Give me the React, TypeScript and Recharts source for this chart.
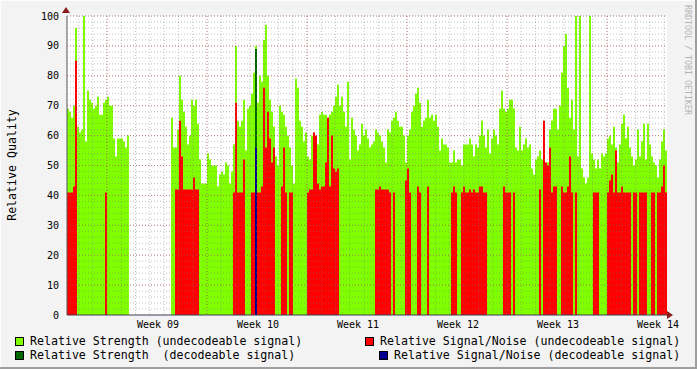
import { Bar, BarChart, CartesianGrid, XAxis, YAxis } from 'recharts'

const mono = '"DejaVu Sans Mono", monospace'

const weekLabels = ['Week 09', 'Week 10', 'Week 11', 'Week 12', 'Week 13', 'Week 14']
// sample index under each week label
const weekLabelIdx = [45, 95, 145, 195, 245, 295]
const yTicks = [0, 10, 20, 30, 40, 50, 60, 70, 80, 90, 100]

// relative strength, undecodeable signal (null = no data)
const strength = [
  69, 68, 66, 70, 96, 63, 61, 62, 100, 58,
  75, 72, 71, 69, 70, 73, 67, 67, 71, 72,
  73, 70, 70, 59, 53, 59, 59, 59, 58, 56,
  60, null, null, null, null, null, null, null, null, null,
  null, null, null, null, null, null, null, null, null, null,
  null, null, 66, 56, 56, 62, 80, 72, 68, 63,
  57, 60, 72, 70, 72, 64, 52, 44, 44, 44,
  54, 52, 50, 50, 50, 43, 47, 48, 47, 51,
  50, 44, 48, 57, 90, 65, 63, 65, 72, 55,
  69, 70, 74, 81, 90, 71, 80, 78, 92, 97,
  80, 72, 68, 63, 53, 50, 70, 68, 67, 63,
  60, 56, 50, 44, 79, 76, 65, 63, 58, 61,
  53, 52, 60, 61, 53, 57, 67, 68, 67, 67,
  66, 67, 68, 70, 73, 77, 70, 73, 68, 63,
  78, 52, 66, 62, 60, 55, 57, 64, 60, 62,
  59, 56, 57, 58, 62, 61, 60, 58, 56, 51,
  62, 61, 65, 66, 68, 65, 63, 63, 60, 51,
  60, 62, 68, 70, 74, 76, 71, 63, 65, 66,
  72, 66, 67, 65, 67, 63, 55, 59, 57, 57,
  56, 51, 51, 55, 51, 52, 52, 50, 57, 57,
  57, 59, 57, 53, 57, 56, 60, 65, 60, 56,
  62, 54, 59, 62, 60, 57, 69, 75, 69, 68,
  69, 72, 72, 69, 56, 55, 63, 55, 57, 59,
  56, 57, 49, 47, 52, 53, 55, 52, 50, 48,
  51, 62, 65, 69, 69, 62, 70, 81, 90, 94,
  76, 66, 72, 62, 100, 53, 100, 49, 46, 44,
  46, 100, 54, 52, 49, 52, 49, 54, 53, 54,
  59, 60, 57, 63, 56, 51, 57, 64, 67, 59,
  63, 56, 53, 50, 52, 62, 53, 58, 64, 52,
  64, 57, 53, 51, 50, 46, 52, 58, 62, 55,
]

// relative signal/noise, undecodeable signal (0 = none)
const snr = [
  41, 41, 41, 43, 85, 0, 0, 0, 0, 0,
  0, 0, 0, 0, 0, 0, 0, 0, 0, 41,
  0, 0, 0, 0, 0, 0, 0, 0, 0, 0,
  0, 0, 0, 0, 0, 0, 0, 0, 0, 0,
  0, 0, 0, 0, 0, 0, 0, 0, 0, 0,
  0, 0, 0, 0, 42, 42, 65, 53, 42, 42,
  42, 42, 42, 46, 42, 42, 0, 0, 0, 0,
  0, 0, 0, 0, 0, 0, 0, 0, 0, 0,
  0, 0, 0, 41, 71, 41, 41, 41, 52, 0,
  0, 0, 41, 41, 41, 41, 41, 43, 76, 56,
  68, 59, 51, 56, 0, 0, 0, 43, 56, 41,
  0, 41, 41, 0, 0, 0, 0, 0, 0, 0,
  41, 42, 42, 61, 60, 44, 42, 43, 43, 51,
  66, 43, 60, 49, 48, 49, 0, 0, 0, 0,
  0, 0, 0, 0, 0, 0, 0, 0, 0, 0,
  0, 0, 0, 0, 42, 42, 43, 42, 42, 42,
  42, 41, 0, 41, 0, 0, 0, 0, 0, 45,
  49, 41, 0, 0, 0, 43, 41, 0, 0, 0,
  43, 0, 0, 0, 0, 0, 0, 0, 0, 0,
  0, 0, 41, 43, 41, 0, 0, 41, 43, 41,
  41, 42, 41, 42, 41, 41, 43, 43, 41, 41,
  0, 0, 0, 0, 0, 0, 0, 0, 43, 41,
  41, 41, 0, 41, 0, 0, 0, 0, 0, 0,
  0, 0, 0, 0, 0, 0, 42, 0, 65, 51,
  50, 56, 41, 43, 43, 0, 0, 43, 41, 41,
  43, 53, 41, 0, 41, 0, 0, 0, 0, 0,
  0, 0, 0, 41, 41, 41, 0, 0, 0, 0,
  41, 45, 47, 41, 55, 41, 41, 43, 41, 41,
  41, 41, 0, 41, 41, 0, 41, 41, 41, 41,
  0, 0, 41, 41, 0, 41, 41, 43, 50, 41,
]

// decodeable signal: only one sample in the window
const decStrength: Record<number, number> = { 94: 89 }
const decSnr: Record<number, number> = { 94: 56 }

const DAYS = 42 // time span of the plot
const FIRST_WEEK = 2.8 // days from left edge to first week boundary

const rows = strength.map((s, i) => ({
  i,
  s,
  r: snr[i] ? snr[i] : null,
  ds: decStrength[i] ?? null,
  dr: decSnr[i] ?? null,
}))

const dayLines = ({ offset }: any) => {
  const out: number[] = []
  for (let d = FIRST_WEEK % 1; d < DAYS; d += 1) out.push(offset.left + (d / DAYS) * offset.width)
  return out
}
const weekLines = ({ offset }: any) => {
  const out: number[] = []
  for (let d = FIRST_WEEK; d < DAYS; d += 7) out.push(offset.left + (d / DAYS) * offset.width)
  return out
}
const levelLines = (step: number) => ({ offset }: any) => {
  const out: number[] = []
  for (let v = step; v <= 100; v += step) out.push(offset.top + offset.height * (1 - v / 100))
  return out
}

function Swatch({ color, x, y }: { color: string; x: number; y: number }) {
  return (
    <div
      style={{
        position: 'absolute',
        left: x,
        top: y,
        width: 7,
        height: 7,
        background: color,
        border: '1px solid #000',
      }}
    />
  )
}

function LegendText({ text, x, y }: { text: string; x: number; y: number }) {
  return (
    <div
      style={{
        position: 'absolute',
        left: x,
        top: y,
        fontFamily: mono,
        fontSize: 11.6,
        lineHeight: '14px',
        whiteSpace: 'pre',
        color: '#000',
      }}
    >
      {text}
    </div>
  )
}

export default function App() {
  return (
    <div
      style={{
        position: 'absolute',
        left: 0,
        top: 0,
        width: 697,
        height: 369,
        background: '#f3f3f3',
        boxShadow: 'inset -2px -2px 0 #9e9e9e, inset 1px 1px 0 #fdfdfd',
        overflow: 'hidden',
      }}
    >
      <BarChart
        width={697}
        height={369}
        data={rows}
        margin={{ top: 16, right: 30, bottom: 30, left: 8 }}
        barCategoryGap={0}
        barGap={0}
        style={{ position: 'absolute', left: 0, top: 0 }}
      >
        <rect x={67} y={16} width={600} height={299} fill="#fff" />
        <XAxis
          xAxisId="g"
          dataKey="i"
          ticks={weekLabelIdx}
          interval={0}
          tickFormatter={(v: number) => weekLabels[weekLabelIdx.indexOf(v)]}
          height={24}
          tickSize={0}
          tickMargin={6}
          axisLine={{ stroke: '#3c3c50' }}
          tick={{ fontSize: 10, fill: '#000', fontFamily: mono }}
        />
        <XAxis xAxisId="r" dataKey="i" hide height={0} />
        <XAxis xAxisId="ds" dataKey="i" hide height={0} />
        <XAxis xAxisId="dr" dataKey="i" hide height={0} />
        <YAxis
          domain={[0, 100]}
          ticks={yTicks}
          interval={0}
          width={59}
          tickSize={0}
          tickMargin={8}
          axisLine={{ stroke: '#555' }}
          tick={{ fontSize: 10, fill: '#000', fontFamily: mono }}
        />
        <Bar xAxisId="g" dataKey="s" fill="#80ff00" isAnimationActive={false} />
        <Bar xAxisId="r" dataKey="r" fill="#ff0000" isAnimationActive={false} />
        <Bar xAxisId="ds" dataKey="ds" fill="#006600" isAnimationActive={false} />
        <Bar xAxisId="dr" dataKey="dr" fill="#000090" isAnimationActive={false} />
        <CartesianGrid
          xAxisId="g"
          zIndex={2000}
          verticalCoordinatesGenerator={dayLines}
          horizontalCoordinatesGenerator={levelLines(2)}
          stroke="rgba(120,120,120,0.45)"
          strokeDasharray="1 2"
          fill="none"
        />
        <CartesianGrid
          xAxisId="g"
          zIndex={2001}
          verticalCoordinatesGenerator={weekLines}
          horizontalCoordinatesGenerator={levelLines(10)}
          stroke="rgba(190,60,60,0.5)"
          strokeDasharray="1 2"
          fill="none"
        />
      </BarChart>

      <div
        style={{
          position: 'absolute',
          left: 62,
          top: 7,
          width: 0,
          height: 0,
          borderLeft: '4px solid transparent',
          borderRight: '4px solid transparent',
          borderBottom: '6px solid #8b1a1a',
        }}
      />
      <div
        style={{
          position: 'absolute',
          left: 667,
          top: 311,
          width: 0,
          height: 0,
          borderTop: '4px solid transparent',
          borderBottom: '4px solid transparent',
          borderLeft: '6px solid #8b1a1a',
        }}
      />

      <div
        style={{
          position: 'absolute',
          left: 12,
          top: 165,
          transform: 'translate(-50%, -50%) rotate(-90deg)',
          fontFamily: mono,
          fontSize: 11.6,
          whiteSpace: 'pre',
          color: '#000',
        }}
      >
        Relative Quality
      </div>
      <div
        style={{
          position: 'absolute',
          left: 688,
          top: 60,
          transform: 'translate(-50%, -50%) rotate(90deg)',
          fontFamily: mono,
          fontSize: 8.3,
          whiteSpace: 'pre',
          color: '#b4b4b4',
        }}
      >
        RRDTOOL / TOBI OETIKER
      </div>

      <Swatch color="#80ff00" x={15} y={337} />
      <LegendText text="Relative Strength (undecodeable signal)" x={30} y={334} />
      <Swatch color="#ff0000" x={365} y={337} />
      <LegendText text="Relative Signal/Noise (undecodeable signal)" x={380} y={334} />
      <Swatch color="#006600" x={15} y={351} />
      <LegendText text="Relative Strength  (decodeable signal)" x={30} y={348} />
      <Swatch color="#000090" x={379} y={351} />
      <LegendText text="Relative Signal/Noise (decodeable signal)" x={394} y={348} />
    </div>
  )
}
